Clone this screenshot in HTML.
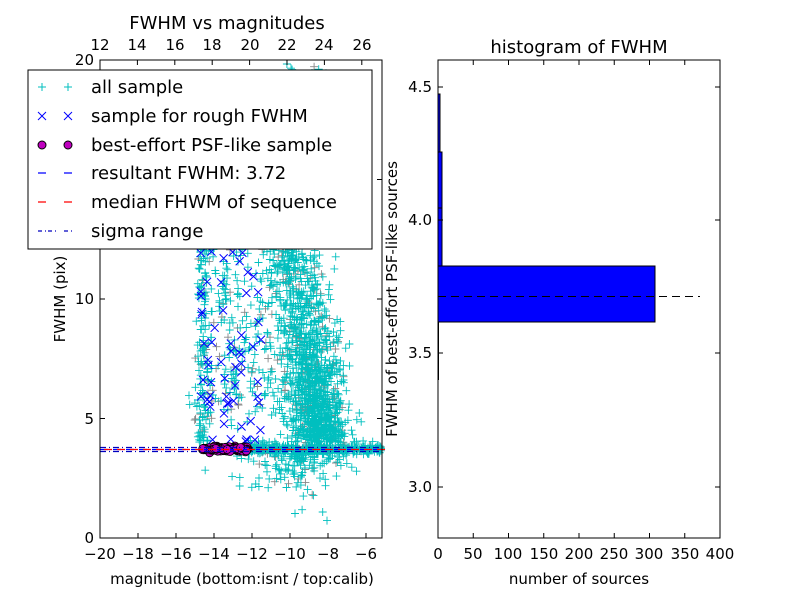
<!DOCTYPE html>
<html><head><meta charset="utf-8"><style>
body{margin:0;background:#fff;}
svg text{font-family:"DejaVu Sans","Liberation Sans",sans-serif;fill:#000;}
</style></head><body>
<svg id="s" width="800" height="600" xmlns="http://www.w3.org/2000/svg">
<rect width="800" height="600" fill="#fff"/>
<g id="pts"></g>
<g id="lax"></g>
<rect x="100" y="60" width="282" height="478" fill="none" stroke="#000" stroke-width="1"/>
<text x="227" y="29" font-size="18" text-anchor="middle">FWHM vs magnitudes</text>
<text x="242" y="584" font-size="15" text-anchor="middle">magnitude (bottom:isnt / top:calib)</text>
<text transform="translate(65,299) rotate(-90)" font-size="15" text-anchor="middle">FWHM (pix)</text>
<g font-size="15" text-anchor="middle">
<text x="100" y="559">−20</text><text x="138" y="559">−18</text><text x="176" y="559">−16</text><text x="214" y="559">−14</text><text x="252" y="559">−12</text><text x="290" y="559">−10</text><text x="328" y="559">−8</text><text x="366" y="559">−6</text>
<text x="100" y="50">12</text><text x="137" y="50">14</text><text x="175" y="50">16</text><text x="212" y="50">18</text><text x="250" y="50">20</text><text x="287" y="50">22</text><text x="324" y="50">24</text><text x="362" y="50">26</text>
</g>
<g font-size="15" text-anchor="end">
<text x="94" y="543">0</text><text x="94" y="424">5</text><text x="94" y="304">10</text><text x="94" y="65">20</text>
</g>
<rect x="28" y="70" width="344" height="179" fill="#fff" stroke="#000"/>
<g font-size="18">
<text x="91" y="93">all sample</text>
<text x="91" y="122">sample for rough FWHM</text>
<text x="91" y="151">best-effort PSF-like sample</text>
<text x="91" y="179">resultant FWHM: 3.72</text>
<text x="91" y="208">median FHWM of sequence</text>
<text x="91" y="237">sigma range</text>
</g>
<g stroke="#00bfbf" stroke-width="1"><path d="M38 87h8M42 83v8M64 87h8M68 83v8"/></g>
<g stroke="#0000ff" stroke-width="1"><path d="M38 112l8 8M46 112l-8 8M64 112l8 8M72 112l-8 8"/></g>
<circle cx="42" cy="145" r="4" fill="#bf00bf" stroke="#000"/><circle cx="68" cy="145" r="4" fill="#bf00bf" stroke="#000"/>
<path d="M38 173h8M64 173h8" stroke="#0000ff" stroke-width="1.2"/>
<path d="M38 202h8M64 202h8" stroke="#ff0000" stroke-width="1.2"/>
<path d="M38 231h4M45 231h1M48 231h4M55 231h1M64 231h4M71 231h1" stroke="#0000bf" stroke-width="1.2"/>
<rect x="438" y="94" width="2" height="58" fill="#0000ff" stroke="#000"/>
<rect x="438" y="152" width="4" height="56" fill="#0000ff" stroke="#000"/>
<rect x="438" y="208" width="4" height="58" fill="#0000ff" stroke="#000"/>
<rect x="438" y="266" width="217" height="56" fill="#0000ff" stroke="#000"/>
<path d="M438.5 322v58" stroke="#000"/>
<path d="M438 296.5h262" stroke="#000" stroke-dasharray="8,5"/>
<g id="rax"></g>
<rect x="438" y="60" width="282" height="478" fill="none" stroke="#000"/>
<text x="579" y="53" font-size="18" text-anchor="middle">histogram of FWHM</text>
<text x="579" y="584" font-size="15" text-anchor="middle">number of sources</text>
<text transform="translate(397,299) rotate(-90)" font-size="15" text-anchor="middle">FWHM of best-effort PSF-like sources</text>
<g font-size="15" text-anchor="end">
<text x="432" y="92">4.5</text><text x="432" y="225">4.0</text><text x="432" y="358">3.5</text><text x="432" y="492">3.0</text>
</g>
<g font-size="15" text-anchor="middle">
<text x="438" y="559">0</text><text x="473" y="559">50</text><text x="508" y="559">100</text><text x="544" y="559">150</text><text x="579" y="559">200</text><text x="614" y="559">250</text><text x="649" y="559">300</text><text x="685" y="559">350</text><text x="720" y="559">400</text>
</g>
</svg>
<script>
(function(){
var seed=12345;function r(){seed=(seed*1103515245+12345)%2147483648;return seed/2147483648;}
function n(){return Math.sqrt(-2*Math.log(r()+1e-9))*Math.cos(6.2832*r());}
function px(m){return 100+(m+20)*19;}function py(f){return 538-f*23.9;}
var c='',g='',b='',mg='';
function plus(m,f,gray){var x=px(m),y=py(f);if(x<100||x>382||y<60||y>538)return;var s='M'+(x-4).toFixed(1)+' '+y.toFixed(1)+'h8M'+x.toFixed(1)+' '+(y-4).toFixed(1)+'v8';if(gray)g+=s;else c+=s;}
var i;
// main diagonal cloud
for(i=0;i<900;i++){var t=r();var f=4+Math.pow(t,1.4)*10;var m=-8.2-(f-4)*0.22+n()*0.8;plus(m,f,r()<0.1);}
for(i=0;i<400;i++){var m=-8.7+n()*0.7,f=4.2+Math.abs(n())*2.5;plus(m,f,r()<0.1);}
for(i=0;i<80;i++){plus(-9+n()*0.7,13+r()*7,r()<0.1);}
for(i=0;i<200;i++){plus(-11+n()*1.3,5+r()*8,r()<0.1);}
// band
for(i=0;i<400;i++){var m=-12.3+r()*7.1;plus(m,3.72+n()*0.12,r()<0.15);}
for(i=0;i<120;i++){plus(-9.5+n()*1.2,3.7-Math.abs(n())*0.9,r()<0.1);}
for(i=0;i<25;i++){plus(-11+n()*1.5,2+r()*1.5,false);}
// left column
for(i=0;i<140;i++){plus(-14.6+n()*0.2,4+Math.pow(r(),1.2)*9,r()<0.1);}
for(i=0;i<110;i++){plus(-13.2+n()*0.8,4+Math.abs(n())*3.5+r()*2,r()<0.25);}
for(i=0;i<40;i++){plus(-12.8+n()*0.6,9+r()*5,false);}
for(i=0;i<60;i++){var x=px(-14.7+r()*3.2),y=py(4+Math.pow(r(),1.3)*8);b+='M'+(x-4)+' '+(y-4)+'l8 8M'+(x+4)+' '+(y-4)+'l-8 8';}
for(i=0;i<160;i++){var x=px(-14.6+r()*2.4),y=py(3.72+n()*0.05);mg+='<circle cx="'+x.toFixed(1)+'" cy="'+y.toFixed(1)+'" r="4" fill="#bf00bf" stroke="#000" stroke-width="0.8"/>';}
var lines='<path d="M100 449.5h282" stroke="#0000ff" stroke-width="1.3" stroke-dasharray="8,5"/>'+
'<path d="M104 449.5h282" stroke="#ff0000" stroke-width="1.3" stroke-dasharray="8,5"/>'+
'<path d="M100 447.5h282M100 451.5h282" stroke="#0000bf" stroke-width="1.2" stroke-dasharray="6,3,1,3"/>';
document.getElementById('pts').innerHTML='<path d="'+g+'" stroke="#888" stroke-width="0.9"/><path d="'+c+'" stroke="#00bfbf" stroke-width="0.9"/><path d="'+b+'" stroke="#0000ff" stroke-width="1"/>'+mg+lines;
var t='';
[0,5,10,15,20].forEach(function(f){var y=py(f);t+='M100 '+y+'h5M382 '+y+'h-5';});
for(var k=-20;k<=-6;k+=2){var x=px(k);t+='M'+x+' 538v-5';}
for(var k=12;k<=26;k+=2){var x=100+(k-12)*18.7;t+='M'+x+' 60v5';}
document.getElementById('lax').innerHTML='<path d="'+t+'" stroke="#000"/>';
var u='';
[87,220,353,487].forEach(function(y){u+='M438 '+y+'h5M720 '+y+'h-5';});
for(var k=0;k<=8;k++){var x=438+k*35.25;u+='M'+x+' 538v-5M'+x+' 60v5';}
document.getElementById('rax').innerHTML='<path d="'+u+'" stroke="#000"/>';
})();
</script>
</body></html>
